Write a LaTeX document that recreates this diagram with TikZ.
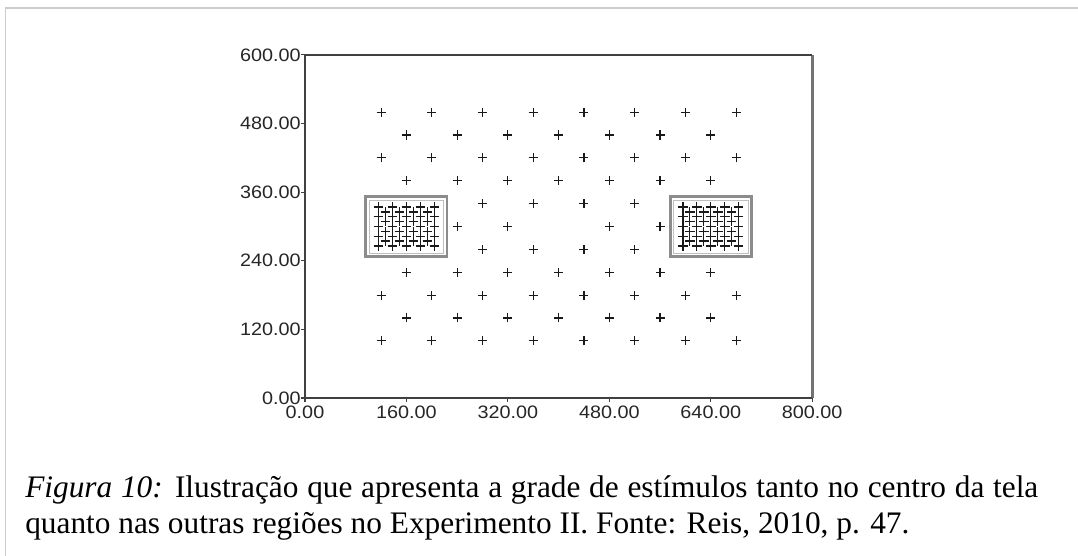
\documentclass[tikz,border=0pt]{standalone}
\usepackage{fontspec}
\setmainfont{Liberation Serif}
\newfontfamily\axisfont{Liberation Sans}
\begin{document}
\begin{tikzpicture}[x=0.75pt,y=-0.75pt,
  axdark/.style={line width=1pt, draw=black!75},
  axgray/.style={line width=2pt, draw=black!55},
  tickln/.style={line width=0.8pt, draw=black!75},
  lab/.style={font=\axisfont\fontsize{13.5}{16}\selectfont, inner sep=0pt, xscale=1.1, text=black!85},
  pls/.pic={\draw[line width=0.85pt,black!90] (-3.4pt,0)--(3.4pt,0) (0,-3.4pt)--(0,3.4pt);},
  dpls/.pic={\draw[line width=0.95pt,black!90] (-3.6pt,0)--(3.6pt,0) (0,-3.6pt)--(0,3.6pt);},
  hbox/.style={draw=black!45, line width=2.2pt},
  hboxin/.style={draw=black!25, line width=0.6pt},
  capline/.style={anchor=base west, inner sep=0pt, font=\fontsize{23.5}{27}\selectfont}
]
\useasboundingbox (0,0) rectangle (1078,556);
\fill[white] (0,0) rectangle (1078,556);
\draw[black!20, line width=0.8pt] (5.5,556)--(5.5,8)--(1078,8);

\begin{scope}[shift={(305,398)}, x=0.4755pt, y=0.4288pt]
  % frame
  \draw[axgray] (800,600)--(800,0);
  \draw[axdark, line width=1.5pt] (0,0)--(800,0);
  \draw[axdark] (0,0)--(0,600)--(800,600);
  % y ticks and labels
  \foreach \v in {0,120,...,600} {
    \draw[tickln] (0,\v) -- ++(-3pt,0);
    \node[lab, anchor=east] at ([xshift=-3pt]0,\v) {\v.00};
  }
  % x ticks and labels
  \foreach \v in {0,160,...,800} {
    \draw[tickln] (\v,0) -- ++(0,-3pt);
    \node[lab, anchor=north] at ([yshift=-6pt]\v,0) {\v.00};
  }
  % main staggered grid
  \foreach \y in {100,180,420,500} \foreach \x in {120,200,...,680} \pic at (\x,\y) {pls};
  \foreach \y in {140,220,380,460} \foreach \x in {160,240,...,640} \pic at (\x,\y) {pls};
  \foreach \y in {260,340} \foreach \x in {280,360,440,520} \pic at (\x,\y) {pls};
  \foreach \x in {240,320,480,560} \pic at (\x,300) {pls};
  % dense grids in the two boxes
  \foreach \c in {160,640} {
    \foreach \j in {-4,-2,0,2,4} \foreach \dx in {-44,-22,0,22,44}
      \pic at ({\c+\dx},{300+8.5*\j}) {dpls};
    \foreach \j in {-3,-1,1,3} \foreach \dx in {-33,-11,11,33}
      \pic at ({\c+\dx},{300+8.5*\j}) {dpls};
    \draw[hbox] ({\c-64},247) rectangle ({\c+64},352);
    \draw[hboxin] ([shift={(2.4pt,2.4pt)}]{\c-64},247) rectangle ([shift={(-2.4pt,-2.4pt)}]{\c+64},352);
  }
\end{scope}

% caption
\node[capline] (cap1) at (25,497.5) {\makebox[759.75pt][s]{\textit{Figura 10:} Ilustração que apresenta a grade de estímulos tanto no centro da tela}};
\node[capline] (cap2) at (25,533.5) {quanto nas outras regiões no Experimento II. Fonte: Reis, 2010, p. 47.};
\end{tikzpicture}
\end{document}
